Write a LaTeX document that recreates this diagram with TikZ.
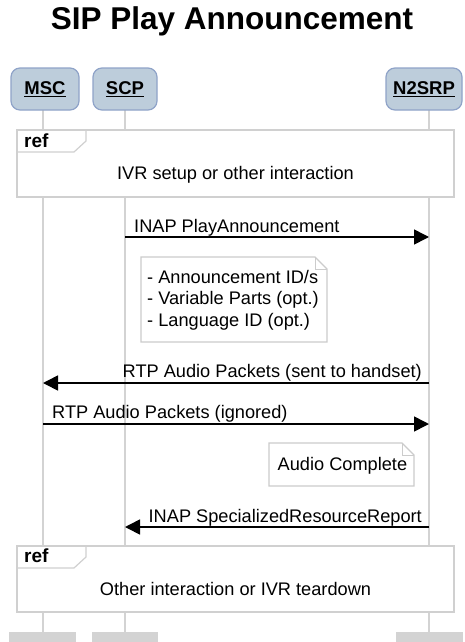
\documentclass[tikz,border=0pt]{standalone}
\usepackage{fontspec}
\setmainfont{Liberation Sans}
\usetikzlibrary{arrows.meta}
\definecolor{partfill}{HTML}{BDCDDB}
\definecolor{partdraw}{HTML}{8FA3C8}
\definecolor{lifegray}{HTML}{D3D3D3}
\definecolor{refgray}{HTML}{D0D0D0}
\definecolor{notegray}{HTML}{CCCCCC}
\begin{document}
\begin{tikzpicture}[x=1pt,y=-1pt,
  lbl/.style={font=\fontsize{18.2}{22}\selectfont, inner sep=0pt, anchor=base},
  part/.style={draw=partdraw, line width=1.2pt, fill=partfill, rounded corners=9pt, minimum height=42pt, inner sep=0pt, font=\bfseries\fontsize{18.5}{22}\selectfont},
  endbox/.style={fill=lifegray, minimum height=10pt, inner sep=0pt},
  lifeline/.style={draw=lifegray, line width=1.5pt},
  refbox/.style={draw=refgray, line width=1.5pt, fill=white},
  notebox/.style={draw=notegray, line width=1.2pt, fill=white},
  msg/.style={draw=black, line width=1.6pt, -{Triangle[length=15pt,width=15pt]}}
]
\useasboundingbox (0,0) rectangle (464,642);
\fill[white] (0,0) rectangle (464,642);

% title
\node[lbl, font=\bfseries\fontsize{31.5}{38}\selectfont] (title) at (232,29.5) {SIP Play Announcement};

% lifeline coordinates
\coordinate (mscT) at (43,110);  \coordinate (mscB) at (43,632);
\coordinate (scpT) at (125,110); \coordinate (scpB) at (125,632);
\coordinate (srpT) at (429,110); \coordinate (srpB) at (429,632);
\draw[lifeline] (mscT) -- (mscB);
\draw[lifeline] (scpT) -- (scpB);
\draw[lifeline] (srpT) -- (srpB);

% participants
\node[part, minimum width=68pt] (msc) at (45,89) {\underline{MSC}};
\node[part, minimum width=64pt] (scp) at (125,89) {\underline{SCP}};
\node[part, minimum width=76pt] (srp) at (424,89) {\underline{N2SRP}};
\node[endbox, minimum width=67pt] (mscend) at (42.5,637) {};
\node[endbox, minimum width=66pt] (scpend) at (125,637) {};
\node[endbox, minimum width=67pt] (srpend) at (429.5,637) {};

% ref 1
\draw[refbox] (17,130) rectangle (454,197);
\draw[draw=refgray, line width=1.2pt] (17,152) -- (74,152) -- (86,141) -- (86,130);
\node[lbl, anchor=base west, font=\bfseries\fontsize{19}{22}\selectfont] (ref1tag) at (24,147) {ref};
\node[lbl] (ref1) at (235.5,179) {IVR setup or other interaction};

% message 1
\coordinate (m1s) at (125,237); \coordinate (m1e) at (429,237);
\draw[msg] (m1s) -- (m1e);
\node[lbl, anchor=base west] (m1l) at (134,232) {INAP PlayAnnouncement};

% note 1
\draw[notebox] (141,257) -- (315,257) -- (327,269) -- (327,342) -- (141,342) -- cycle;
\draw[draw=notegray, line width=1pt] (315,257) -- (315,269) -- (327,269);
\node[lbl, anchor=base west] (n1a) at (147,283) {- Announcement ID/s};
\node[lbl, anchor=base west] (n1b) at (147,304.5) {- Variable Parts (opt.)};
\node[lbl, anchor=base west] (n1c) at (147,326) {- Language ID (opt.)};

% message 2
\coordinate (m2s) at (429,383); \coordinate (m2e) at (43,383);
\draw[msg] (m2s) -- (m2e);
\node[lbl, anchor=base east] (m2l) at (422,377) {RTP Audio Packets (sent to handset)};

% message 3
\coordinate (m3s) at (43,424); \coordinate (m3e) at (429,424);
\draw[msg] (m3s) -- (m3e);
\node[lbl, anchor=base west] (m3l) at (52,418) {RTP Audio Packets (ignored)};

% note 2
\draw[notebox] (269,443) -- (402,443) -- (414,455) -- (414,486) -- (269,486) -- cycle;
\draw[draw=notegray, line width=1pt] (402,443) -- (402,455) -- (414,455);
\node[lbl, anchor=base west] (n2) at (277.5,470) {Audio Complete};

% message 4
\coordinate (m4s) at (429,527); \coordinate (m4e) at (125,527);
\draw[msg] (m4s) -- (m4e);
\node[lbl, anchor=base east] (m4l) at (422,522) {INAP SpecializedResourceReport};

% ref 2
\draw[refbox] (17,546) rectangle (454,612);
\draw[draw=refgray, line width=1.2pt] (17,568) -- (74,568) -- (86,557) -- (86,546);
\node[lbl, anchor=base west, font=\bfseries\fontsize{19}{22}\selectfont] (ref2tag) at (24,562.5) {ref};
\node[lbl] (ref2) at (235.5,595) {Other interaction or IVR teardown};
\end{tikzpicture}
\end{document}
